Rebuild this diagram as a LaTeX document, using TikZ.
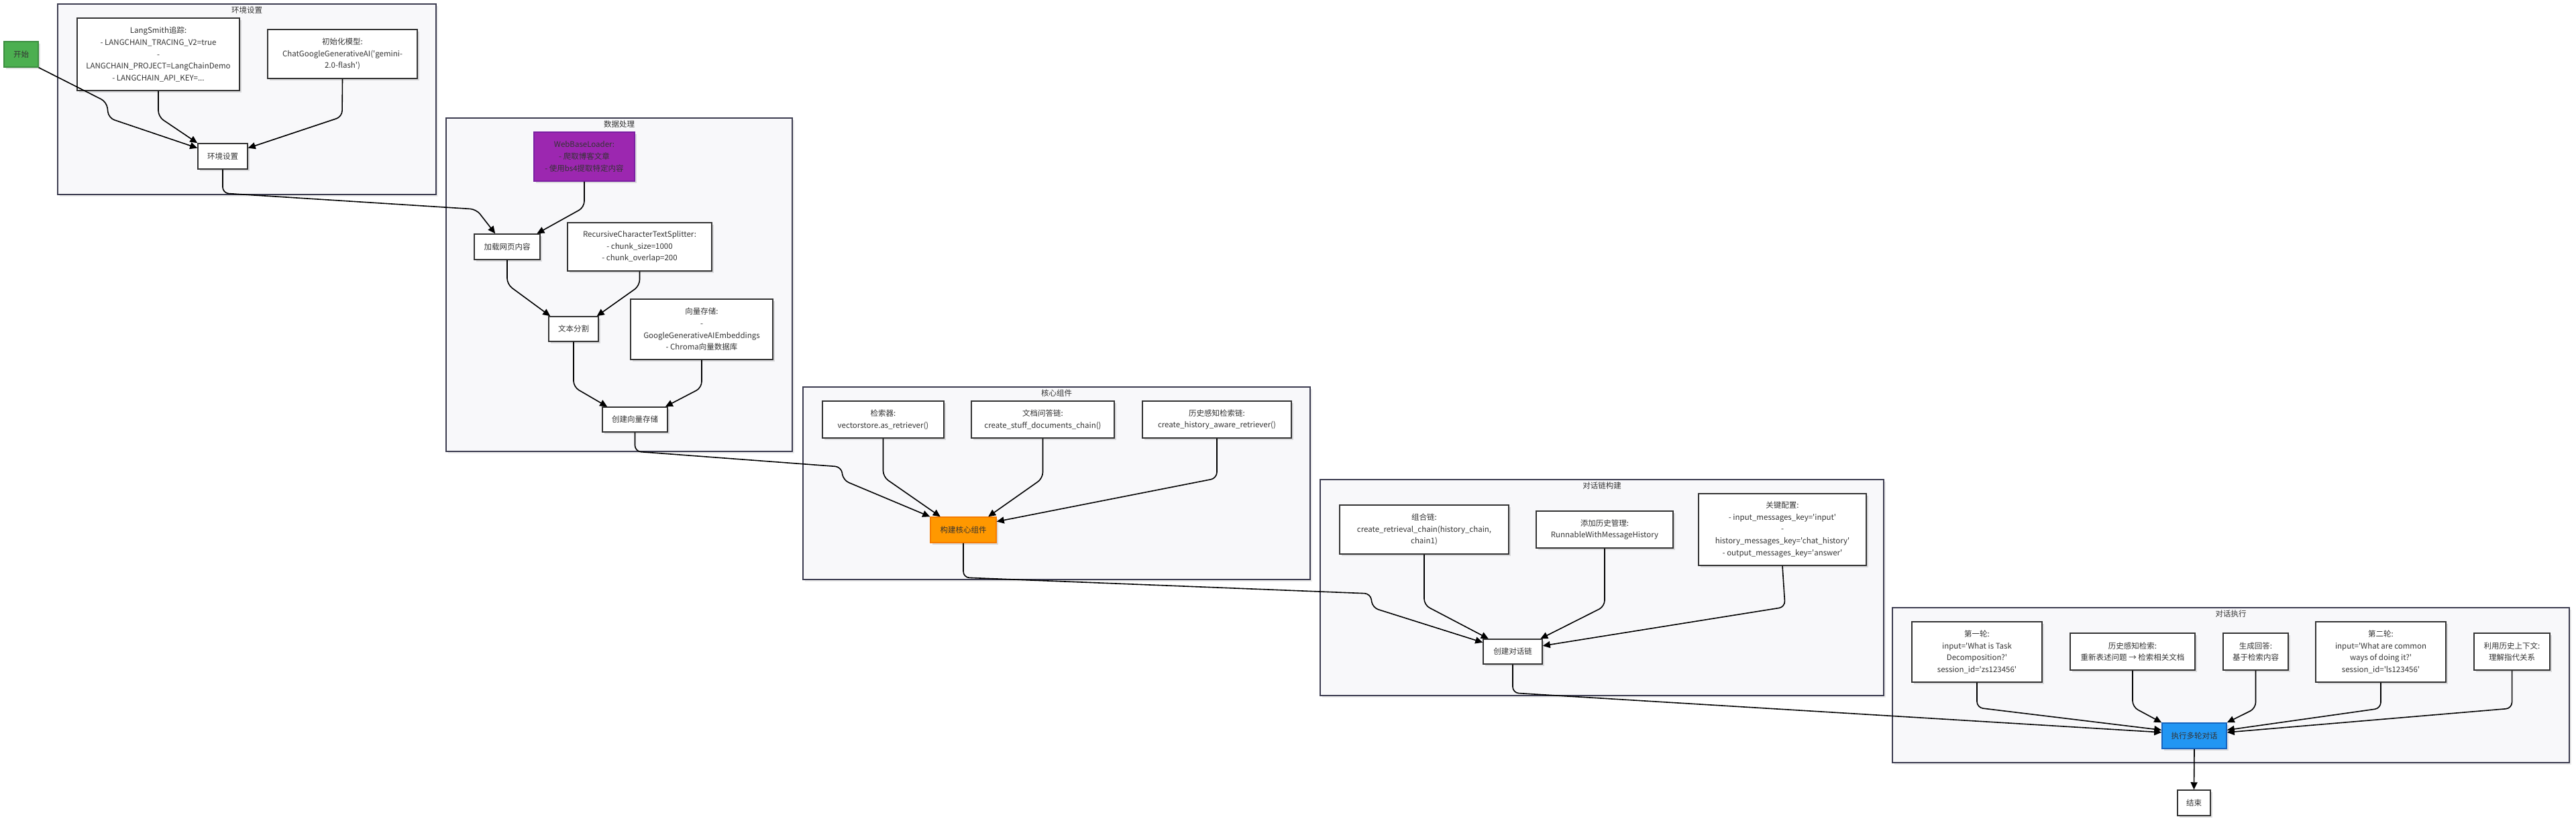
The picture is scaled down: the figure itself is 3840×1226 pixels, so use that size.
\documentclass[tikz,border=0pt]{standalone}
\usepackage{fontspec}
\setmainfont{Noto Sans CJK SC}[Ligatures=TeXOff]
\usetikzlibrary{arrows.meta,shadows}
\definecolor{ink}{HTML}{333333}
\definecolor{clfill}{HTML}{F8F8FA}
\definecolor{clline}{HTML}{3C3C50}
\definecolor{gfill}{HTML}{4CAF50}\definecolor{gline}{HTML}{3B8E3F}
\definecolor{pfill}{HTML}{9C27B0}\definecolor{pline}{HTML}{7B1FA2}
\definecolor{ofill}{HTML}{FF9800}\definecolor{oline}{HTML}{F57C00}
\definecolor{bfill}{HTML}{2196F3}\definecolor{bline}{HTML}{1565C0}
\begin{document}
\begin{tikzpicture}[x=1pt,y=-1pt,
  txt/.style={text=ink,font=\fontsize{11.5}{17.7}\selectfont,align=center},
  box/.style={txt,draw=ink,line width=1.5pt,fill=white,inner sep=0pt,
    drop shadow={shadow xshift=3pt,shadow yshift=-3pt,opacity=0.12,fill=black}},
  cluster/.style={draw=clline,line width=1.5pt,fill=clfill,inner sep=0pt,
    drop shadow={shadow xshift=3pt,shadow yshift=-3pt,opacity=0.08,fill=black}},
  cltitle/.style={txt},
  edge/.style={draw=black,line width=1.6pt,rounded corners=9pt,-{Triangle[length=11pt,width=10pt]}},
]
\useasboundingbox[fill=white] (0,0) rectangle (3840,1226);

% ---------- clusters ----------
\node[cluster,minimum width=564pt,minimum height=284pt] (cEnv) at (368,148) {};
\node[cltitle] (tEnv) at (368,15) {环境设置};
\node[cluster,minimum width=516pt,minimum height=497pt] (cData) at (923,424.5) {};
\node[cltitle] (tData) at (923,185) {数据处理};
\node[cluster,minimum width=756pt,minimum height=287pt] (cCore) at (1575,720.5) {};
\node[cltitle] (tCore) at (1575,586) {核心组件};
\node[cluster,minimum width=840pt,minimum height=322pt] (cChain) at (2388,876) {};
\node[cltitle] (tChain) at (2388,724) {对话链构建};
\node[cluster,minimum width=1009pt,minimum height=231pt] (cExec) at (3325.5,1021.5) {};
\node[cltitle] (tExec) at (3325.5,915) {对话执行};

% ---------- nodes ----------
\node[box,fill=gfill,draw=gline,minimum width=51pt,minimum height=38pt] (start) at (31.5,81) {开始};
\node[box,minimum width=242pt,minimum height=108pt] (lang) at (236,81)
  {LangSmith追踪:\\- LANGCHAIN\_TRACING\_V2=true\\-\\LANGCHAIN\_PROJECT=LangChainDemo\\- LANGCHAIN\_API\_KEY=...};
\node[box,minimum width=223pt,minimum height=73pt] (init) at (510.5,80.5)
  {初始化模型:\\ChatGoogleGenerativeAI('gemini-\\2.0-flash')};
\node[box,minimum width=74pt,minimum height=38pt] (envset) at (332,233) {环境设置};

\node[box,fill=pfill,draw=pline,minimum width=150pt,minimum height=73pt] (web) at (871,233.5)
  {WebBaseLoader:\\- 爬取博客文章\\- 使用bs4提取特定内容};
\node[box,minimum width=98pt,minimum height=38pt] (loadweb) at (756,368) {加载网页内容};
\node[box,minimum width=215pt,minimum height=72pt] (split) at (953.5,368)
  {RecursiveCharacterTextSplitter:\\- chunk\_size=1000\\- chunk\_overlap=200};
\node[box,minimum width=74pt,minimum height=37pt] (tsplit) at (855,490.5) {文本分割};
\node[box,minimum width=212pt,minimum height=90pt] (vec) at (1046,491)
  {向量存储:\\-\\GoogleGenerativeAIEmbeddings\\- Chroma向量数据库};
\node[box,minimum width=97pt,minimum height=37pt] (cvec) at (946.5,625.5) {创建向量存储};

\node[box,minimum width=181pt,minimum height=55pt] (retr) at (1316.5,625.5)
  {检索器:\\vectorstore.as\_retriever()};
\node[box,minimum width=213pt,minimum height=55pt] (docc) at (1554.5,625.5)
  {文档问答链:\\create\_stuff\_documents\_chain()};
\node[box,minimum width=222pt,minimum height=55pt] (hret) at (1814,625.5)
  {历史感知检索链:\\create\_history\_aware\_retriever()};
\node[box,fill=ofill,draw=oline,minimum width=98pt,minimum height=38pt] (core) at (1436,790) {构建核心组件};

\node[box,minimum width=252pt,minimum height=73pt] (comb) at (2123,789.5)
  {组合链:\\create\_retrieval\_chain(history\_chain,\\chain1)};
\node[box,minimum width=204pt,minimum height=55pt] (addh) at (2392,789.5)
  {添加历史管理:\\RunnableWithMessageHistory};
\node[box,minimum width=250pt,minimum height=107pt] (keyc) at (2657,789.5)
  {关键配置:\\- input\_messages\_key='input'\\-\\history\_messages\_key='chat\_history'\\- output\_messages\_key='answer'};
\node[box,minimum width=88pt,minimum height=37pt] (cchain) at (2255,971.5) {创建对话链};

\node[box,minimum width=194pt,minimum height=90pt] (r1) at (2947,972)
  {第一轮:\\input='What is Task\\Decomposition?'\\session\_id='zs123456'};
\node[box,minimum width=186pt,minimum height=55pt] (hs) at (3179,971.5)
  {历史感知检索:\\重新表述问题 → 检索相关文档};
\node[box,minimum width=97pt,minimum height=55pt] (gen) at (3362.5,971.5)
  {生成回答:\\基于检索内容};
\node[box,minimum width=194pt,minimum height=90pt] (r2) at (3549,972)
  {第二轮:\\input='What are common\\ways of doing it?'\\session\_id='ls123456'};
\node[box,minimum width=113pt,minimum height=55pt] (useh) at (3744.5,971.5)
  {利用历史上下文:\\理解指代关系};
\node[box,fill=bfill,draw=bline,minimum width=96pt,minimum height=38pt] (exec) at (3271,1097) {执行多轮对话};
\node[box,minimum width=49pt,minimum height=38pt] (end) at (3270.5,1197) {结束};

% ---------- edges ----------
\draw[edge] (start.south east) -- (159,152) -- (162,176) -- (envset.162);
\draw[edge] (lang.south) -- (236,174) -- (envset.north west);
\draw[edge] (init.south) -- (510,174) -- (envset.18);
\draw[edge] (envset.south) -- (332,288) -- (710,312) -- (loadweb.132);

\draw[edge] (web.south) -- (871,309) -- (loadweb.24);
\draw[edge] (loadweb.south) -- (756,424) -- (tsplit.151);
\draw[edge] (split.south) -- (953.5,426) -- (tsplit.29);
\draw[edge] (tsplit.south) -- (855,577) -- (cvec.155);
\draw[edge] (vec.south) -- (1046,578) -- (cvec.23);
\draw[edge] (cvec.south) -- (946.5,673) -- (1254,696) -- (1257,716) -- (core.north west);

\draw[edge] (retr.south) -- (1316.5,711) -- (core.150);
\draw[edge] (docc.south) -- (1554.5,713) -- (core.28);
\draw[edge] (hret.south) -- (1814,713) -- (core.14);
\draw[edge] (core.south) -- (1436,861) -- (2043,885) -- (2046,906) -- (cchain.163);

\draw[edge] (comb.south) -- (2123,902) -- (cchain.152);
\draw[edge] (addh.south) -- (2392,904) -- (cchain.25);
\draw[edge] (keyc.south) -- (2661,905) -- (cchain.11);
\draw[edge] (cchain.south) -- (2255,1033) -- (exec.174);

\draw[edge] (r1.south) -- (2947,1055) -- (exec.170);
\draw[edge] (hs.south) -- (3179,1054) -- (exec.north west);
\draw[edge] (gen.south) -- (3362.5,1056) -- (exec.north east);
\draw[edge] (r2.south) -- (3549,1056) -- (exec.10);
\draw[edge] (useh.south) -- (3744.5,1056) -- (exec.6);
\draw[edge] (exec.south) -- (end.north);
\end{tikzpicture}
\end{document}
